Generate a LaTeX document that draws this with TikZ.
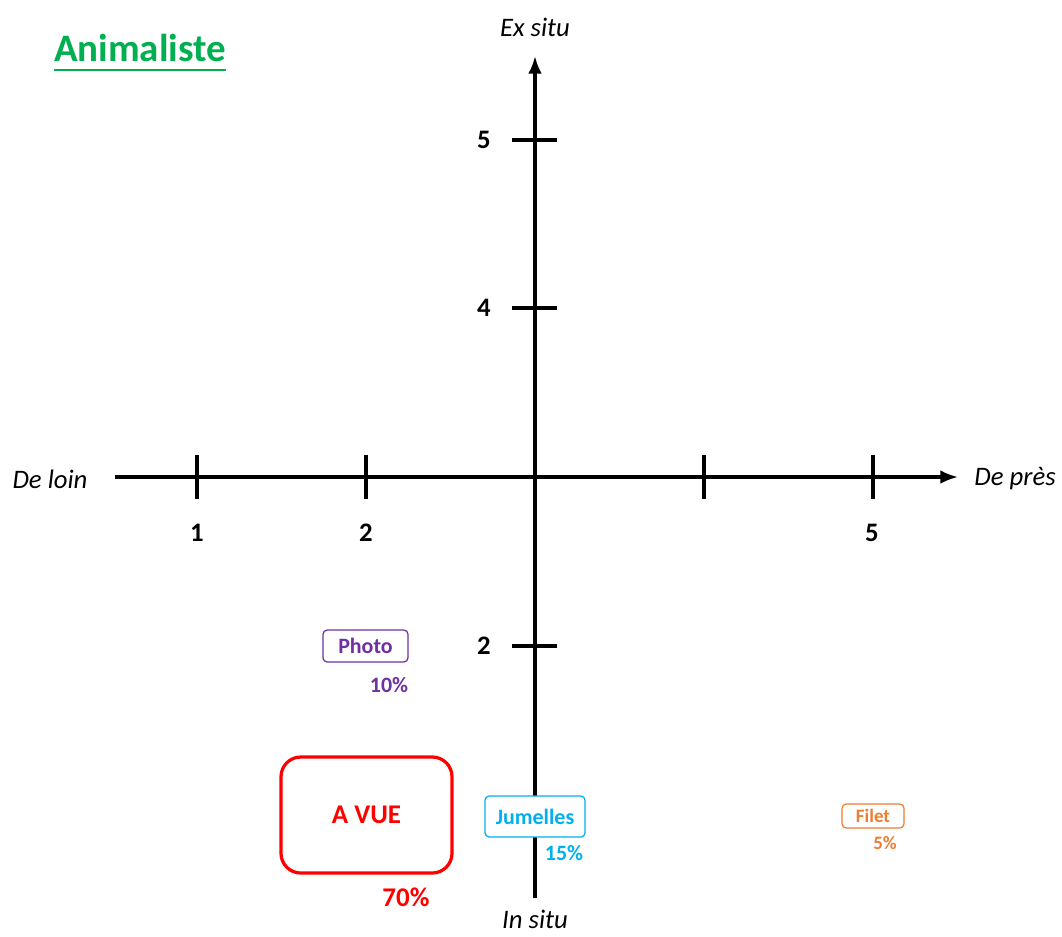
\documentclass[tikz,border=0pt]{standalone}
\usepackage{fontspec}
\setmainfont{Carlito}
\usetikzlibrary{arrows.meta,positioning}
\definecolor{animgreen}{RGB}{0,176,80}
\definecolor{photopurple}{RGB}{112,48,160}
\definecolor{jumblue}{RGB}{0,176,240}
\definecolor{filetorange}{RGB}{237,125,49}
\definecolor{vuered}{RGB}{255,0,0}

\begin{document}
\begin{tikzpicture}[x=0.025cm, y=-0.025cm,
        axis/.style={-{Latex[length=4.4mm, width=3.4mm]}, line width=2.2pt},
        tick/.style={line width=2.2pt},
        axislabel/.style={font=\fontsize{19}{22}\selectfont\itshape, inner sep=0pt},
        ticklabel/.style={font=\fontsize{19}{22}\selectfont\bfseries, inner sep=0pt},
        tool/.style={draw, rounded corners=3pt, line width=0.9pt, fill=white, align=center},
        share/.style={inner sep=0pt}
      ]
      \useasboundingbox (0,0) rectangle (1062,936);

      % title
      \node[font=\fontsize{27.7}{32}\selectfont\bfseries, text=animgreen, inner sep=0pt] (title) at (140,48) {Animaliste};
      \draw[animgreen, line width=2pt] ([yshift=-6pt]title.base west) -- ([yshift=-6pt]title.base east);

      % axes
      \coordinate (west) at (115,477);
      \coordinate (east) at (958,477);
      \coordinate (south) at (535,898);
      \coordinate (north) at (535,56);
      \draw[axis] (west) -- (east);
      \draw[axis] (south) -- (north);

      \node[axislabel] (loin) at (50,479) {De loin};
      \node[axislabel] (pres) at (1015,479) {De près};
      \node[axislabel] (exsitu) at (535,27) {Ex situ};
      \node[axislabel] (insitu) at (535,919) {In situ};

      % ticks
      \foreach \x in {197,366,704,873}
        \draw[tick] (\x,455) -- (\x,499);
      \foreach \y in {140,308,646}
        \draw[tick] (512,\y) -- (557,\y);

      \node[ticklabel] (h1) at (197,533) {1};
      \node[ticklabel] (h2) at (366,533) {2};
      \node[ticklabel] (h5) at (872,533) {5};
      \node[ticklabel] (v5) at (484,140) {5};
      \node[ticklabel] (v4) at (484,308) {4};
      \node[ticklabel] (v2) at (484,646) {2};

      % tools
      \node[tool, draw=photopurple, text=photopurple, minimum width=85*0.025cm, minimum height=32*0.025cm,
            font=\fontsize{15.6}{18}\selectfont\bfseries] (photo) at (365.5,646) {Photo};
      \node[share, text=photopurple, font=\fontsize{15.6}{18}\selectfont\bfseries] (photopct) at (389,685) {10\%};

      \node[tool, draw=vuered, text=vuered, line width=2.3pt, rounded corners=14pt, minimum width=171*0.025cm,
            minimum height=116*0.025cm, font=\fontsize{19.2}{22}\selectfont\bfseries] (vue) at (366.5,815) {A VUE};
      \node[share, text=vuered, font=\fontsize{19.2}{22}\selectfont\bfseries] (vuepct) at (406,897) {70\%};

      \node[tool, draw=jumblue, text=jumblue, minimum width=100*0.025cm, minimum height=41*0.025cm,
            font=\fontsize{15.6}{18}\selectfont\bfseries] (jumelles) at (535,816.5) {Jumelles};
      \node[share, text=jumblue, font=\fontsize{15.6}{18}\selectfont\bfseries] (jumpct) at (564,853) {15\%};

      \node[tool, draw=filetorange, text=filetorange, minimum width=62*0.025cm, minimum height=24*0.025cm,
            inner sep=1pt, font=\fontsize{13.5}{16}\selectfont\bfseries] (filet) at (873,816) {Filet};
      \node[share, text=filetorange, font=\fontsize{13.5}{16}\selectfont\bfseries] (filetpct) at (885,843) {5\%};
    \end{tikzpicture}
\end{document}
